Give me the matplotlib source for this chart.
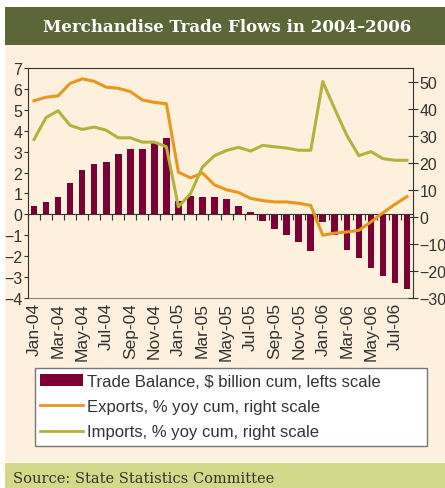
import numpy as np
import matplotlib
matplotlib.use('Agg')
import matplotlib.pyplot as plt
from matplotlib.patches import Rectangle, Patch
from matplotlib.lines import Line2D

months = ['Jan-04', 'Feb-04', 'Mar-04', 'Apr-04', 'May-04', 'Jun-04', 'Jul-04', 'Aug-04',
          'Sep-04', 'Oct-04', 'Nov-04', 'Dec-04', 'Jan-05', 'Feb-05', 'Mar-05', 'Apr-05',
          'May-05', 'Jun-05', 'Jul-05', 'Aug-05', 'Sep-05', 'Oct-05', 'Nov-05', 'Dec-05',
          'Jan-06', 'Feb-06', 'Mar-06', 'Apr-06', 'May-06', 'Jun-06', 'Jul-06', 'Aug-06']

trade_balance = [0.4, 0.6, 0.85, 1.5, 2.1, 2.4, 2.5, 2.9, 3.15, 3.15, 3.4, 3.65,
                 0.65, 0.9, 0.85, 0.85, 0.72, 0.4, 0.12, -0.33, -0.72, -1.0, -1.34, -1.77,
                 -0.38, -1.0, -1.72, -2.1, -2.58, -2.93, -3.3, -3.59]

exports = [42.9, 44.2, 44.7, 49.3, 51.0, 50.1, 47.9, 47.5, 46.3, 43.2, 42.3, 41.8,
           16.5, 14.4, 16.2, 11.8, 10.0, 9.0, 6.8, 6.0, 5.5, 5.5, 5.0, 4.2,
           -6.8, -6.0, -5.6, -5.0, -1.9, 1.5, 4.6, 7.5]

imports = [28.6, 36.7, 39.2, 33.8, 32.3, 33.2, 32.0, 29.2, 29.2, 27.6, 27.6, 25.9,
           3.7, 8.5, 18.4, 22.6, 24.5, 25.7, 24.3, 26.4, 25.9, 25.4, 24.6, 24.6,
           50.0, 39.8, 30.1, 22.6, 24.1, 21.5, 20.9, 20.9]

left_ticks = list(range(-4, 8))
right_ticks = list(range(-30, 60, 10))

cream = '#fdf0dc'
band = '#5d6638'
source_band = '#d4d98a'
maroon = '#7b0033'
orange = '#e8961e'
olive = '#b3b23c'
txt = '#333333'

sans = ['Liberation Sans', 'DejaVu Sans']
serif = ['DejaVu Serif']

fig = plt.figure(figsize=(4.45, 4.89), dpi=100)
fig.patch.set_facecolor('white')
W, H = 445, 489

def fx(px):
    return px / W

def fy(py):
    return 1 - py / H

# background panels
fig.patches.append(Rectangle((fx(5), fy(463)), fx(440), 417 / H, transform=fig.transFigure,
                             facecolor=cream, edgecolor='none', zorder=-3))
fig.patches.append(Rectangle((fx(5), fy(46)), fx(440), 38 / H, transform=fig.transFigure,
                             facecolor=band, edgecolor='none', zorder=-3))
fig.patches.append(Rectangle((fx(5), 0), fx(440), 25 / H, transform=fig.transFigure,
                             facecolor=source_band, edgecolor='none', zorder=-3))
fig.text(fx(227), fy(27), 'Merchandise Trade Flows in 2004\u20132006', color='white',
         ha='center', va='center', fontsize=12, fontweight='bold', family=serif)
fig.text(fx(13), fy(479), 'Source: State Statistics Committee', color='#333333',
         ha='left', va='center', fontsize=10.5, family=serif)

ax = fig.add_axes([fx(28), fy(299), fx(385), 230 / H])
ax.set_facecolor('none')
x = np.arange(len(months))

ax.bar(x, trade_balance, width=0.55, color=maroon, zorder=2)
ax.set_xlim(-0.5, len(months) - 0.5)
ax.set_ylim(-4, 7)
ax.set_yticks(left_ticks)
ax.tick_params(axis='y', direction='out', length=3, color=txt, labelcolor=txt,
               labelsize=11.5, pad=1)
for lab in ax.get_yticklabels():
    lab.set_family(sans)

# zero line with category ticks
ax.spines['bottom'].set_position(('data', 0))
ax.spines['bottom'].set_color(txt)
ax.set_xticks(np.arange(-0.5, len(months), 1))
ax.tick_params(axis='x', direction='out', length=4, color=txt, labelbottom=False)

# month labels at the frame bottom
sec = ax.secondary_xaxis(0)
sec.set_xticks(x[::2])
sec.set_xticklabels(months[::2], rotation=90, family=sans, fontsize=12.5, color=txt)
sec.tick_params(length=0, pad=3)
sec.spines['bottom'].set_color('#888888')
sec.spines['bottom'].set_linewidth(0.8)

for s in ['left', 'top']:
    ax.spines[s].set_color(txt)
ax.spines['right'].set_visible(False)

ax2 = ax.twinx()
ax2.plot(x, exports, color=orange, lw=2.2, zorder=3)
ax2.plot(x, imports, color=olive, lw=2.2, zorder=3)
ax2.set_ylim(-30, 55)
ax2.set_yticks(right_ticks)
ax2.tick_params(axis='y', direction='inout', length=7, color=txt, labelcolor=txt,
                labelsize=11.5, pad=1)
for lab in ax2.get_yticklabels():
    lab.set_family(sans)
for s in ['left', 'top', 'bottom']:
    ax2.spines[s].set_visible(False)
ax2.spines['right'].set_color(txt)

# legend box
fig.patches.append(Rectangle((fx(35), fy(447)), fx(392), 78 / H, transform=fig.transFigure,
                             facecolor='white', edgecolor='#777777', lw=1, zorder=-2))
handles = [Patch(facecolor=maroon, edgecolor='none'),
           Line2D([], [], color=orange, lw=2),
           Line2D([], [], color=olive, lw=2)]
labels = ['Trade Balance, $ billion cum, lefts scale',
          'Exports, % yoy cum, right scale',
          'Imports, % yoy cum, right scale']
leg = fig.legend(handles, labels, loc='upper left', bbox_to_anchor=(fx(38), fy(373)),
                 frameon=False, handlelength=2.6, handleheight=0.7, handletextpad=0.25,
                 labelspacing=0.62, borderaxespad=0, borderpad=0.1,
                 prop={'family': sans, 'size': 12})
for t in leg.get_texts():
    t.set_color(txt)

fig.savefig('out.png', dpi=100, facecolor=fig.get_facecolor())
